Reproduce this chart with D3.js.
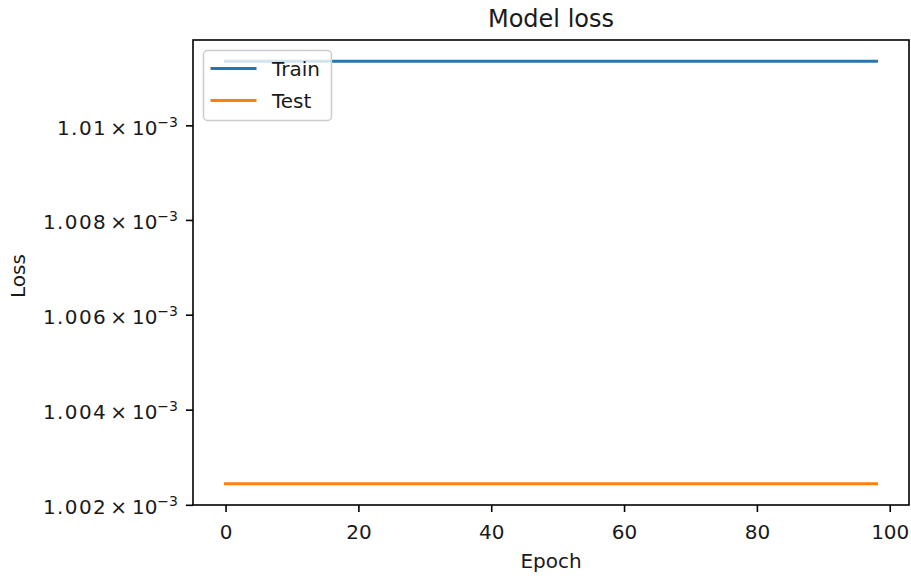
<!DOCTYPE html>
<html>
<head>
<meta charset="utf-8">
<script src="https://cdn.jsdelivr.net/npm/d3@7"></script>
<style>
  body { margin: 0; background: #fff; }
  text { font-family: "DejaVu Sans", sans-serif; fill: #1a1a1a; }
</style>
</head>
<body>
<svg id="chart" width="911" height="578"></svg>
<script>
// loss per epoch (epochs 0..98): both curves are flat
const trainLoss = [
  1.01136e-3, 1.01136e-3, 1.01136e-3, 1.01136e-3, 1.01136e-3, 1.01136e-3, 1.01136e-3, 1.01136e-3, 1.01136e-3, 1.01136e-3, 1.01136e-3,
  1.01136e-3, 1.01136e-3, 1.01136e-3, 1.01136e-3, 1.01136e-3, 1.01136e-3, 1.01136e-3, 1.01136e-3, 1.01136e-3, 1.01136e-3, 1.01136e-3,
  1.01136e-3, 1.01136e-3, 1.01136e-3, 1.01136e-3, 1.01136e-3, 1.01136e-3, 1.01136e-3, 1.01136e-3, 1.01136e-3, 1.01136e-3, 1.01136e-3,
  1.01136e-3, 1.01136e-3, 1.01136e-3, 1.01136e-3, 1.01136e-3, 1.01136e-3, 1.01136e-3, 1.01136e-3, 1.01136e-3, 1.01136e-3, 1.01136e-3,
  1.01136e-3, 1.01136e-3, 1.01136e-3, 1.01136e-3, 1.01136e-3, 1.01136e-3, 1.01136e-3, 1.01136e-3, 1.01136e-3, 1.01136e-3, 1.01136e-3,
  1.01136e-3, 1.01136e-3, 1.01136e-3, 1.01136e-3, 1.01136e-3, 1.01136e-3, 1.01136e-3, 1.01136e-3, 1.01136e-3, 1.01136e-3, 1.01136e-3,
  1.01136e-3, 1.01136e-3, 1.01136e-3, 1.01136e-3, 1.01136e-3, 1.01136e-3, 1.01136e-3, 1.01136e-3, 1.01136e-3, 1.01136e-3, 1.01136e-3,
  1.01136e-3, 1.01136e-3, 1.01136e-3, 1.01136e-3, 1.01136e-3, 1.01136e-3, 1.01136e-3, 1.01136e-3, 1.01136e-3, 1.01136e-3, 1.01136e-3,
  1.01136e-3, 1.01136e-3, 1.01136e-3, 1.01136e-3, 1.01136e-3, 1.01136e-3, 1.01136e-3, 1.01136e-3, 1.01136e-3, 1.01136e-3, 1.01136e-3
];
const testLoss = [
  1.00244e-3, 1.00244e-3, 1.00244e-3, 1.00244e-3, 1.00244e-3, 1.00244e-3, 1.00244e-3, 1.00244e-3, 1.00244e-3, 1.00244e-3, 1.00244e-3,
  1.00244e-3, 1.00244e-3, 1.00244e-3, 1.00244e-3, 1.00244e-3, 1.00244e-3, 1.00244e-3, 1.00244e-3, 1.00244e-3, 1.00244e-3, 1.00244e-3,
  1.00244e-3, 1.00244e-3, 1.00244e-3, 1.00244e-3, 1.00244e-3, 1.00244e-3, 1.00244e-3, 1.00244e-3, 1.00244e-3, 1.00244e-3, 1.00244e-3,
  1.00244e-3, 1.00244e-3, 1.00244e-3, 1.00244e-3, 1.00244e-3, 1.00244e-3, 1.00244e-3, 1.00244e-3, 1.00244e-3, 1.00244e-3, 1.00244e-3,
  1.00244e-3, 1.00244e-3, 1.00244e-3, 1.00244e-3, 1.00244e-3, 1.00244e-3, 1.00244e-3, 1.00244e-3, 1.00244e-3, 1.00244e-3, 1.00244e-3,
  1.00244e-3, 1.00244e-3, 1.00244e-3, 1.00244e-3, 1.00244e-3, 1.00244e-3, 1.00244e-3, 1.00244e-3, 1.00244e-3, 1.00244e-3, 1.00244e-3,
  1.00244e-3, 1.00244e-3, 1.00244e-3, 1.00244e-3, 1.00244e-3, 1.00244e-3, 1.00244e-3, 1.00244e-3, 1.00244e-3, 1.00244e-3, 1.00244e-3,
  1.00244e-3, 1.00244e-3, 1.00244e-3, 1.00244e-3, 1.00244e-3, 1.00244e-3, 1.00244e-3, 1.00244e-3, 1.00244e-3, 1.00244e-3, 1.00244e-3,
  1.00244e-3, 1.00244e-3, 1.00244e-3, 1.00244e-3, 1.00244e-3, 1.00244e-3, 1.00244e-3, 1.00244e-3, 1.00244e-3, 1.00244e-3, 1.00244e-3
];

const seriesNames = ["Train", "Test"];
const seriesColors = ["#1f77b4", "#ff7f0e"];

const xTicks = [0, 20, 40, 60, 80, 100];
const yTicks = [1.002e-3, 1.004e-3, 1.006e-3, 1.008e-3, 1.01e-3];
const yTickMantissas = ["1.002", "1.004", "1.006", "1.008", "1.01"];
const yTickExponent = "\u22123";

const chartTitle = "Model loss",
  xLabel = "Epoch",
  yLabel = "Loss";

const width = 911,
  height = 578,
  margin = { top: 40, right: 2, bottom: 73, left: 193 };

const svg = d3.select("#chart");

// matplotlib-like 5% margins on both axes
const n = trainLoss.length;
const xPad = (n - 1) * 0.05;
const x = d3
  .scaleLinear()
  .domain([-xPad, n - 1 + xPad])
  .range([margin.left, width - margin.right]);

const all = trainLoss.concat(testLoss);
const lo = Math.log10(d3.min(all)),
  hi = Math.log10(d3.max(all)),
  yPad = (hi - lo) * 0.05;
const y = d3
  .scaleLog()
  .domain([Math.pow(10, lo - yPad), Math.pow(10, hi + yPad)])
  .range([height - margin.bottom, margin.top]);

// lines
const line = d3
  .line()
  .x((d, i) => x(i))
  .y(d => y(d));

[trainLoss, testLoss].forEach((series, k) => {
  svg
    .append("path")
    .datum(series)
    .attr("fill", "none")
    .attr("stroke", seriesColors[k])
    .attr("stroke-width", 3)
    .attr("stroke-linecap", "square")
    .attr("d", line);
});

// x axis
const xAxis = svg
  .append("g")
  .attr("transform", `translate(0,${height - margin.bottom})`)
  .call(d3.axisBottom(x).tickValues(xTicks).tickSize(7).tickFormat(d3.format("d")));
xAxis.select(".domain").remove();
xAxis.selectAll(".tick line").attr("stroke", "#000").attr("stroke-width", 1.6);
xAxis
  .selectAll(".tick text")
  .attr("y", 34)
  .attr("dy", null)
  .attr("font-size", 20)
  .attr("font-family", "DejaVu Sans")
  .attr("fill", "#1a1a1a");

// y axis with a×10^b labels
const yAxis = svg
  .append("g")
  .attr("transform", `translate(${margin.left},0)`)
  .call(d3.axisLeft(y).tickValues(yTicks).tickSize(7).tickFormat(""));
yAxis.select(".domain").remove();
yAxis.selectAll(".tick line").attr("stroke", "#000").attr("stroke-width", 1.6);
yAxis.selectAll(".tick text").each(function (d, i) {
  const t = d3
    .select(this)
    .text(null)
    .attr("x", -15)
    .attr("y", 9)
    .attr("dy", null)
    .attr("font-size", 20)
    .attr("font-family", "DejaVu Sans")
    .attr("fill", "#1a1a1a");
  t.append("tspan").attr("letter-spacing", 1.4).text(yTickMantissas[i]);
  t.append("tspan").attr("dx", 3).text("\u00d7");
  t.append("tspan").attr("dx", 5).text("10");
  t.append("tspan").attr("font-size", 14).attr("dy", -8).text(yTickExponent);
});

// frame
svg
  .append("rect")
  .attr("x", margin.left)
  .attr("y", margin.top)
  .attr("width", width - margin.left - margin.right)
  .attr("height", height - margin.top - margin.bottom)
  .attr("fill", "none")
  .attr("stroke", "#000")
  .attr("stroke-width", 1.6);

// labels
svg
  .append("text")
  .attr("x", (margin.left + width - margin.right) / 2)
  .attr("y", 27)
  .attr("text-anchor", "middle")
  .attr("font-size", 24)
  .text(chartTitle);

svg
  .append("text")
  .attr("x", (margin.left + width - margin.right) / 2)
  .attr("y", 568)
  .attr("text-anchor", "middle")
  .attr("font-size", 20)
  .text(xLabel);

svg
  .append("text")
  .attr("transform", "translate(25,276) rotate(-90)")
  .attr("text-anchor", "middle")
  .attr("font-size", 20)
  .text(yLabel);

// legend
const legend = svg.append("g");
legend
  .append("rect")
  .attr("x", 203.5)
  .attr("y", 50.5)
  .attr("width", 128)
  .attr("height", 70)
  .attr("rx", 4)
  .attr("fill", "#fff")
  .attr("fill-opacity", 0.8)
  .attr("stroke", "#cccccc")
  .attr("stroke-width", 1.5);

const legendItems = legend
  .selectAll("g.item")
  .data(seriesNames)
  .join("g")
  .attr("class", "item")
  .attr("transform", (d, i) => `translate(0,${68.5 + i * 32})`);

legendItems
  .append("line")
  .attr("x1", 212)
  .attr("x2", 255)
  .attr("stroke", (d, i) => seriesColors[i])
  .attr("stroke-width", 3)
  .attr("stroke-linecap", "square");

legendItems
  .append("text")
  .attr("x", 272)
  .attr("y", 7.5)
  .attr("font-size", 20)
  .text(d => d);
</script>
</body>
</html>
